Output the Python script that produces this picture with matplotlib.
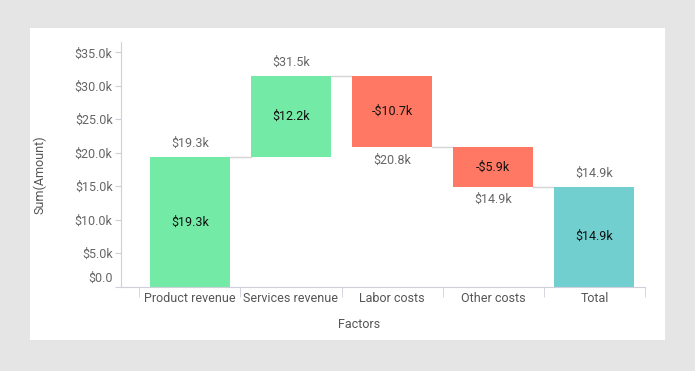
import matplotlib.pyplot as plt
import matplotlib.transforms as mtransforms
from matplotlib.ticker import FuncFormatter

plt.rcParams['font.family'] = ['Roboto', 'DejaVu Sans']

# データ
categories = ["Product revenue", "Services revenue", "Labor costs", "Other costs", "Total"]
changes = [19.3, 12.2, -10.7, -5.9, 14.9]   # 単位: k
is_total = [False, False, False, False, True]

green = "#73eba6"
red = "#ff7864"
teal = "#71cfd0"
axis_col = "#cfcfdc"
grey_txt = "#666666"

# 滝グラフの下端と上端を計算
bottoms, tops = [], []
running = 0.0
for c, t in zip(changes, is_total):
    if t:
        b, top = 0.0, c
        running = c
    else:
        b, top = running, running + c
        running = top
    bottoms.append(min(b, top))
    tops.append(max(b, top))

fig = plt.figure(figsize=(6.95, 3.71), dpi=100, facecolor="#e5e5e5")
# 白いパネル
panel = plt.Rectangle((30/695, 1-340/371), 635/695, 312/371,
                      transform=fig.transFigure, facecolor="white",
                      edgecolor="none", zorder=-10)
fig.add_artist(panel)
ax = fig.add_axes([121/695, 1-286.5/371, 524/695, 244.8/371])
ax.set_zorder(1)
ax.set_facecolor("white")

x = list(range(len(categories)))
w = 0.79
colors = []
for c, t in zip(changes, is_total):
    colors.append(teal if t else (green if c >= 0 else red))

ax.bar(x, [t - b for t, b in zip(tops, bottoms)], bottom=bottoms, width=w,
       color=colors, zorder=2)

# 接続線
for i in range(len(categories) - 1):
    end = tops[i] if changes[i] >= 0 or is_total[i] else bottoms[i]
    ax.plot([i + w/2, i + 1 - w/2], [end, end], color="#d5d5d5", lw=1, zorder=1)

def fmt(v):
    s = "-" if v < 0 else ""
    return f"{s}${abs(v):.1f}k"

for i, (c, t) in enumerate(zip(changes, is_total)):
    mid = (tops[i] + bottoms[i]) / 2
    ax.text(i, mid, fmt(c), ha="center", va="center", fontsize=9, color="#111111", zorder=3)
    if c >= 0:
        ax.annotate(fmt(tops[i]), (i, tops[i]), xytext=(0, 10), textcoords="offset points",
                    ha="center", va="center", fontsize=9, color=grey_txt)
    else:
        ax.annotate(fmt(bottoms[i]), (i, bottoms[i]), xytext=(0, -9), textcoords="offset points",
                    ha="center", va="center", fontsize=9, color=grey_txt)

ax.set_xlim(-0.68, 4.5)
ax.set_ylim(0, 36.6)
ax.set_yticks([0, 5, 10, 15, 20, 25, 30, 35])
ax.yaxis.set_major_formatter(FuncFormatter(lambda v, p: "$0.0" if v == 0 else f"${v:.1f}k"))
ax.set_xticks(x)
ax.set_xticklabels(categories)
ax.set_xticks([i - 0.5 for i in range(len(categories) + 1)], minor=True)
ax.tick_params(axis="x", which="major", length=0, pad=4, labelsize=9, labelcolor="#555555")
ax.tick_params(axis="x", which="minor", length=7, color=axis_col)
ax.tick_params(axis="y", length=4, color=axis_col, labelsize=9, labelcolor=grey_txt, pad=2)

for s in ["top", "right"]:
    ax.spines[s].set_visible(False)
for s in ["left", "bottom"]:
    ax.spines[s].set_color(axis_col)

# $0.0 ラベルを少し上にずらす
lab0 = ax.get_yticklabels()[0]
lab0.set_transform(lab0.get_transform() + mtransforms.ScaledTranslation(0, 7/72, fig.dpi_scale_trans))

fig.text(359/695, 1-324/371, "Factors", ha="center", va="center", fontsize=9, color="#555555")
fig.text(40/695, 1-175/371, "Sum(Amount)", ha="center", va="center", rotation=90,
         fontsize=9, color="#555555")

fig.savefig("out.png", dpi=100, facecolor=fig.get_facecolor())
